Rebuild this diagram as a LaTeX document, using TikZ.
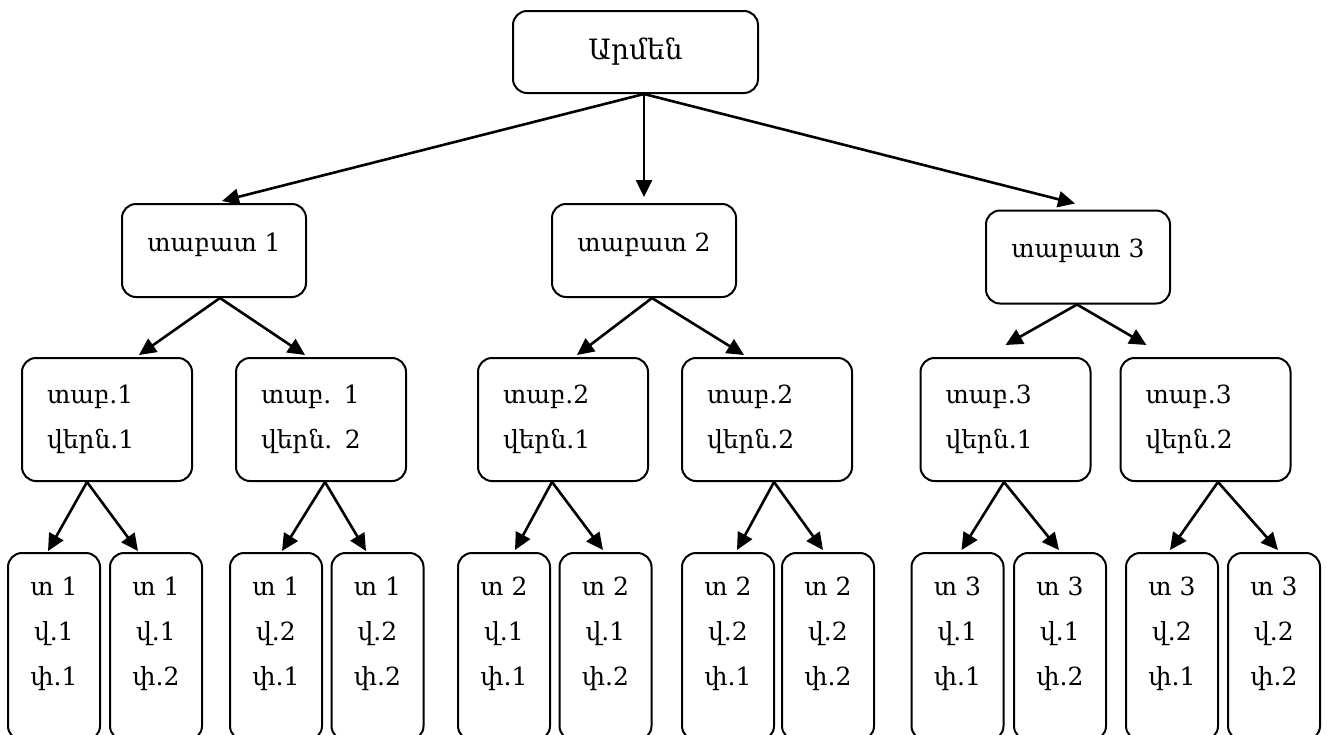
\documentclass[tikz,border=0pt]{standalone}
\usepackage{fontspec}
\newfontfamily\armfont{DejaVu Serif}
\usetikzlibrary{arrows.meta}
\newcommand\lift[2]{\raisebox{0pt}[\height][\dimexpr\depth+#1\relax]{#2}}

\begin{document}
\begin{tikzpicture}[x=1pt,y=-1pt,
    box/.style={draw,line width=2pt,rounded corners=14pt,inner sep=0pt,
      font=\armfont\fontsize{25}{45}\selectfont},
    rootbox/.style={box,minimum width=245pt,minimum height=82pt,
      font=\armfont\fontsize{28}{45}\selectfont},
    pantbox/.style={box,minimum width=184pt,minimum height=93pt},
    vernbox/.style={box,minimum width=170pt,minimum height=123pt,
      text width=120pt,align=left},
    pakbox/.style={box,minimum width=92pt,minimum height=187pt},
    arr/.style={line width=2.6pt,-{Triangle[length=17pt,width=16pt]}}]
  \useasboundingbox (0,0) rectangle (1327,734);

  % top
  \node[rootbox] (armen) at (635.5,52) {Արմեն};

  % level 1
  \node[pantbox] (t1) at (214,250.5) {\lift{12pt}{տաբատ 1}};
  \node[pantbox] (t2) at (644,250.5) {\lift{12pt}{տաբատ 2}};
  \node[pantbox] (t3) at (1078,257) {\lift{12pt}{տաբատ 3}};

  % level 2
  \node[vernbox] (v11) at (107,419.5) {տաբ.1\\վերն.1};
  \node[vernbox] (v12) at (321,419.5) {տաբ. 1\\վերն. 2};
  \node[vernbox] (v21) at (563,419.5) {տաբ.2\\վերն.1};
  \node[vernbox] (v22) at (767,419.5) {տաբ.2\\վերն.2};
  \node[vernbox] (v31) at (1005.5,419.5) {տաբ.3\\վերն.1};
  \node[vernbox] (v32) at (1205.5,419.5) {տաբ.3\\վերն.2};

  % level 3
  \foreach \t/\v/\p/\x in {1/1/1/54,1/1/2/156,1/2/1/276,1/2/2/377.5,
                           2/1/1/504,2/1/2/605.5,2/2/1/728,2/2/2/828,
                           3/1/1/957.5,3/1/2/1060,3/2/1/1172,3/2/2/1274}
    \node[pakbox] (p\t\v\p) at (\x,646.5)
      {\lift{31pt}{\begin{tabular}{@{}c@{}}տ \t\\վ.\v\\փ.\p\end{tabular}}};

  % arrows from the top
  \draw[arr] ([xshift=8.5]armen.south) -- ([shift={(8,-2)}]t1.north);
  \draw[arr] ([xshift=8.5]armen.south) -- ([shift={(0,-6)}]t2.north);
  \draw[arr] ([xshift=8.5]armen.south) -- ([shift={(-3,-6)}]t3.north);

  % arrows to level 2
  \draw[arr] ([xshift=6]t1.south) -- ([shift={(32,-2)}]v11.north);
  \draw[arr] ([xshift=6]t1.south) -- ([shift={(-16,-2)}]v12.north);
  \draw[arr] ([xshift=8]t2.south) -- ([shift={(14,-2)}]v21.north);
  \draw[arr] ([xshift=8]t2.south) -- ([shift={(-23,-2)}]v22.north);
  \draw[arr] ([xshift=-1]t3.south) -- ([shift={(0,-12)}]v31.north);
  \draw[arr] ([xshift=-1]t3.south) -- ([shift={(-59,-12)}]v32.north);

  % arrows to level 3
  \draw[arr] ([xshift=-20]v11.south) -- ([shift={(-6,-1)}]p111.north);
  \draw[arr] ([xshift=-20]v11.south) -- ([shift={(-18,-1)}]p112.north);
  \draw[arr] ([xshift=4]v12.south) -- ([shift={(6,-1)}]p121.north);
  \draw[arr] ([xshift=4]v12.south) -- ([shift={(-11.5,-1)}]p122.north);
  \draw[arr] ([xshift=-11]v21.south) -- ([shift={(11,-2)}]p211.north);
  \draw[arr] ([xshift=-11]v21.south) -- ([shift={(-2.5,-2)}]p212.north);
  \draw[arr] ([xshift=7]v22.south) -- ([shift={(9,-2)}]p221.north);
  \draw[arr] ([xshift=7]v22.south) -- ([shift={(-5,-2)}]p222.north);
  \draw[arr] ([xshift=-1.5]v31.south) -- ([shift={(4,-2)}]p311.north);
  \draw[arr] ([xshift=-1.5]v31.south) -- ([shift={(-1,-2)}]p312.north);
  \draw[arr] ([xshift=12.5]v32.south) -- ([shift={(-2,-2)}]p321.north);
  \draw[arr] ([xshift=12.5]v32.south) -- ([shift={(4,-2)}]p322.north);
\end{tikzpicture}
\end{document}
